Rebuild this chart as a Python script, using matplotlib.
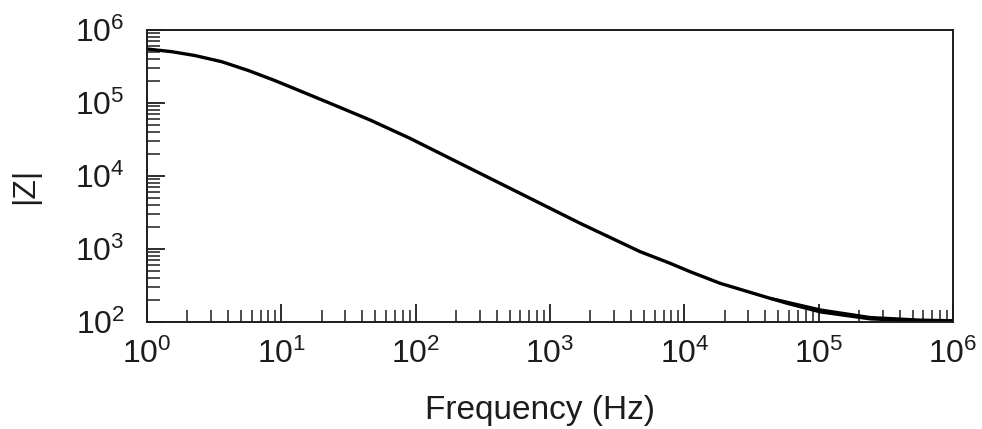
import matplotlib
matplotlib.use("Agg")
import matplotlib.pyplot as plt
from matplotlib.ticker import LogLocator, NullFormatter

# impedance magnitude
freq = [1, 1.53, 2.28, 3.6, 5.68, 8.72, 11.6, 23.1, 45.8, 90.8, 214, 599,
        1676, 4690, 7840, 11040, 18460, 43500, 103000, 242000, 570000, 1000000]
z_mag = [5.50e5, 5.05e5, 4.47e5, 3.68e5, 2.79e5, 2.07e5, 1.67e5, 9.9e4,
         5.85e4, 3.28e4, 1.49e4, 5.79e3, 2.25e3, 919, 637, 489, 339, 211,
         146, 115, 106, 104]

# second (fit) trace that splits off slightly at the high-frequency end
freq_fit = [43500, 58000, 103000, 242000, 570000, 1000000]
z_fit = [211, 180, 137, 110, 103, 102]

plt.rcParams['font.family'] = ['Liberation Sans', 'DejaVu Sans']
plt.rcParams['mathtext.fontset'] = 'custom'
plt.rcParams['mathtext.rm'] = 'Liberation Sans'
plt.rcParams['mathtext.it'] = 'Liberation Sans'

ink = '#1c1c1c'

fig = plt.figure(figsize=(9.82, 4.29), dpi=100)
ax = fig.add_axes([0.1497, 0.2494, 0.8208, 0.6806])

ax.plot(freq, z_mag, color='black', lw=2.4, solid_capstyle='round', solid_joinstyle='round')
ax.plot(freq_fit, z_fit, color='black', lw=2.2, solid_capstyle='round', solid_joinstyle='round')

ax.set_xscale('log')
ax.set_yscale('log')
ax.set_xlim(1, 1e6)
ax.set_ylim(1e2, 1e6)

ax.xaxis.set_major_locator(LogLocator(base=10, numticks=10))
ax.xaxis.set_minor_locator(LogLocator(base=10, subs=range(2, 10), numticks=20))
ax.yaxis.set_major_locator(LogLocator(base=10, numticks=10))
ax.yaxis.set_minor_locator(LogLocator(base=10, subs=range(2, 10), numticks=20))
ax.xaxis.set_minor_formatter(NullFormatter())
ax.yaxis.set_minor_formatter(NullFormatter())

ax.tick_params(which='both', direction='in', top=False, right=False, color=ink)
ax.tick_params(which='major', length=13, width=1.3, labelsize=23, colors=ink)
ax.tick_params(axis='x', which='major', pad=12)
ax.tick_params(axis='y', which='major', pad=16)
ax.tick_params(which='minor', length=9, width=1.1)

for s in ax.spines.values():
    s.set_linewidth(1.4)
    s.set_color(ink)

ax.set_xlabel('Frequency (Hz)', fontsize=24, color=ink)
ax.set_ylabel('|Z|', fontsize=23, color=ink)
ax.xaxis.set_label_coords(0.4876, -0.25)
ax.yaxis.set_label_coords(-0.133, 0.465)

fig.savefig('out.png', dpi=100)
